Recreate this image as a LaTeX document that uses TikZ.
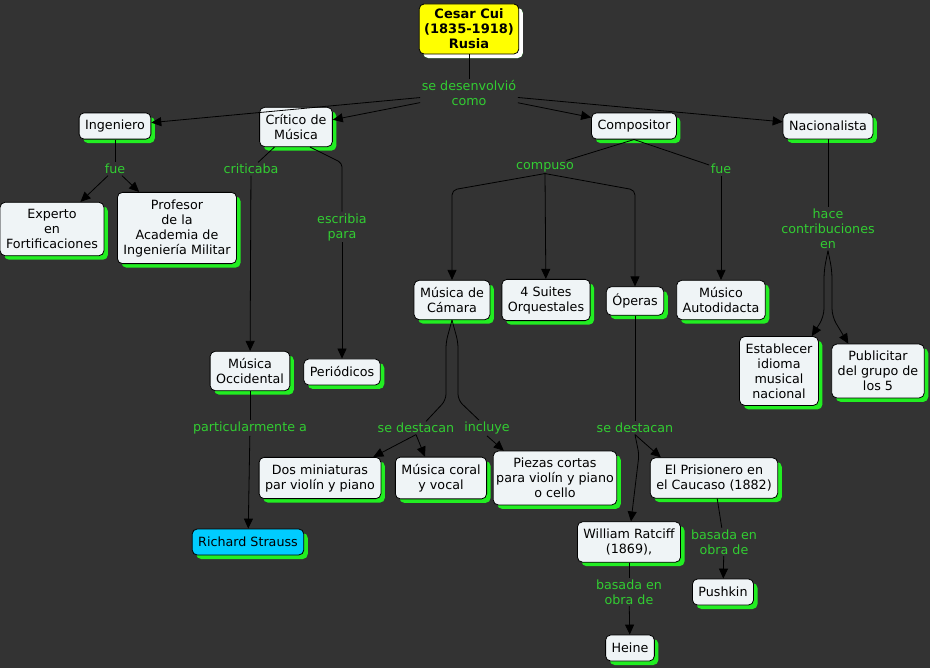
\documentclass[tikz,border=0pt]{standalone}
\usepackage{fontspec}
\setmainfont{DejaVu Sans}
\usetikzlibrary{arrows.meta, shadows, calc}
\definecolor{bgdark}{RGB}{51, 51, 51}
\definecolor{conceptfill}{RGB}{239, 244, 246}
\definecolor{shadowgreen}{RGB}{34, 238, 34}
\definecolor{phrasegreen}{RGB}{50, 205, 50}
\definecolor{rootyellow}{RGB}{255, 255, 0}
\definecolor{straussblue}{RGB}{0, 204, 255}

\begin{document}
\begin{tikzpicture}[x=1pt, y=-1pt,
  concept/.style={rectangle, rounded corners=5pt, draw=black, line width=0.8pt,
    fill=conceptfill, align=center, font=\fontsize{12.7}{15}\selectfont,
    inner xsep=6pt, inner ysep=7pt, minimum height=26pt,
    drop shadow={shadow xshift=4pt, shadow yshift=-4pt, fill=shadowgreen, opacity=1}},
  rootbox/.style={concept, fill=rootyellow, font=\bfseries\fontsize{13}{15}\selectfont,
    inner ysep=5pt, inner xsep=5pt,
    drop shadow={shadow xshift=4pt, shadow yshift=-4pt, fill=white, opacity=1}},
  phrase/.style={text=phrasegreen, align=center, inner sep=1.5pt,
    font=\fontsize{12.7}{15}\selectfont},
  conn/.style={draw=black, line width=0.8pt},
  connarrow/.style={conn, -{Triangle[length=10pt, width=9pt]}}]

  % ===== fondo =====
  \useasboundingbox (0,0) rectangle (930,668);
  \fill[bgdark] (0,0) rectangle (930,668);

  % ===== nivel superior =====
  \node[rootbox] (cui) at (469,29) {Cesar Cui\\(1835-1918)\\Rusia};
  \node[phrase] (ldesen) at (469,93) {se desenvolvió\\como};

  \node[concept] (ing) at (115,126) {Ingeniero};
  \node[concept] (crit) at (296,127) {Crítico de\\Música};
  \node[concept] (comp) at (634,126) {Compositor};
  \node[concept] (nac) at (828,126) {Nacionalista};

  % ===== Ingeniero y Crítico =====
  \node[phrase] (lfue1) at (115,169) {fue};
  \node[concept] (exp) at (52,229) {Experto\\en\\Fortificaciones};
  \node[concept] (prof) at (177,228) {Profesor\\de la\\Academia de\\Ingeniería Militar};

  \node[phrase] (lcrit) at (251,169) {criticaba};
  \node[phrase] (lesc) at (342,227) {escribia\\para};
  \node[concept] (occ) at (250,371) {Música\\Occidental};
  \node[concept] (peri) at (342,372) {Periódicos};
  \node[phrase] (lpart) at (250,428) {particularmente a};
  \node[concept, fill=straussblue] (strauss) at (248,542) {Richard Strauss};

  % ===== Compositor =====
  \node[phrase] (lcompuso) at (545,167) {compuso};
  \node[phrase] (lfue2) at (721,169) {fue};
  \node[concept] (camara) at (452,300) {Música de\\Cámara};
  \node[concept] (suites) at (546,300) {4 Suites\\Orquestales};
  \node[concept] (operas) at (635,301) {Óperas};
  \node[concept] (autod) at (721,300) {Músico\\Autodidacta};

  \node[phrase] (ldest1) at (416,428) {se destacan};
  \node[phrase] (lincl) at (487,428) {incluye};
  \node[concept] (minia) at (320,478) {Dos miniaturas\\par violín y piano};
  \node[concept] (coral) at (441,478) {Música coral\\y vocal};
  \node[concept, inner xsep=3pt] (piezas) at (555,478) {Piezas cortas\\para violín y piano\\o cello};

  \node[phrase] (ldest2) at (635,428) {se destacan};
  \node[concept] (prision) at (714,478) {El Prisionero en\\el Caucaso (1882)};
  \node[concept] (ratcliff) at (629,542) {William Ratciff\\(1869),};
  \node[phrase] (lbas1) at (724,542) {basada en\\obra de};
  \node[concept] (pushkin) at (723,592) {Pushkin};
  \node[phrase] (lbas2) at (629,592) {basada en\\obra de};
  \node[concept] (heine) at (630,648) {Heine};

  % ===== Nacionalista =====
  \node[phrase] (lhace) at (828,229) {hace\\contribuciones\\en};
  \node[concept] (idioma) at (779,371) {Establecer\\idioma\\musical\\nacional};
  \node[concept] (grupo) at (878,371) {Publicitar\\del grupo de\\los 5};

  % ===== conexiones =====
  \draw[conn] (cui) -- (ldesen);
  \draw[connarrow] (ldesen) -- (ing);
  \draw[connarrow] (ldesen) -- (crit);
  \draw[connarrow] (ldesen) -- (comp);
  \draw[connarrow] (ldesen) -- (nac);

  \draw[conn] (ing) -- (lfue1);
  \draw[connarrow] (lfue1) -- (exp);
  \draw[connarrow] (lfue1) -- (prof);

  \draw[conn] (crit) -- (lcrit);
  \draw[connarrow] (lcrit) -- (occ);
  \coordinate (kesc) at (342,163);
  \draw[conn, rounded corners=4pt] ([xshift=14pt]crit.south) -- (kesc) -- (lesc);
  \draw[connarrow] (lesc) -- (peri);

  \draw[conn] (occ) -- (lpart);
  \draw[connarrow] (lpart) -- (strauss);

  \draw[conn] (comp.south) -- (lcompuso);
  \draw[conn] (comp.south) -- (lfue2);
  \coordinate (kcam) at (452,190);
  \coordinate (kope) at (635,190);
  \draw[connarrow, rounded corners=5pt] (lcompuso.south) -- (kcam) -- (camara);
  \draw[connarrow] (lcompuso.south) -- (suites);
  \draw[connarrow, rounded corners=5pt] (lcompuso.south) -- (kope) -- (operas);
  \draw[connarrow] (lfue2) -- (autod);

  % bifurcación bajo Música de Cámara
  \draw[conn, rounded corners=6pt] (camara.south) -- ++(-6,22) -- ++(0,58) -- ([xshift=10pt]ldest1.north);
  \draw[conn, rounded corners=6pt] (camara.south) -- ++(6,22) -- ++(0,58) -- ([xshift=-8pt]lincl.north);
  \draw[connarrow] (ldest1.south) -- ([xshift=-8pt]minia.north east);
  \draw[connarrow] (ldest1.south) -- ([xshift=-16pt]coral.north);
  \draw[connarrow] (lincl.south) -- ([xshift=11pt]piezas.north west);

  \draw[conn] (operas) -- (ldest2);
  \draw[connarrow] (ldest2.south) -- ([xshift=11pt]prision.north west);
  \draw[connarrow, rounded corners=5pt] (ldest2.south) -- ++(4,20) -- ([xshift=2pt]ratcliff.north);

  \draw[conn] (prision) -- (lbas1);
  \draw[connarrow] (lbas1) -- (pushkin);
  \draw[conn] (ratcliff) -- (lbas2);
  \draw[connarrow] (lbas2) -- (heine);

  % bifurcación bajo Nacionalista
  \draw[conn] (nac) -- (lhace);
  \draw[connarrow, rounded corners=8pt] (lhace.south) -- ++(-4,20) -- ++(0,46) -- ([xshift=-7pt]idioma.north east);
  \draw[connarrow, rounded corners=8pt] (lhace.south) -- ++(4,20) -- ++(0,46) -- ([xshift=17pt]grupo.north west);

\end{tikzpicture}
\end{document}
